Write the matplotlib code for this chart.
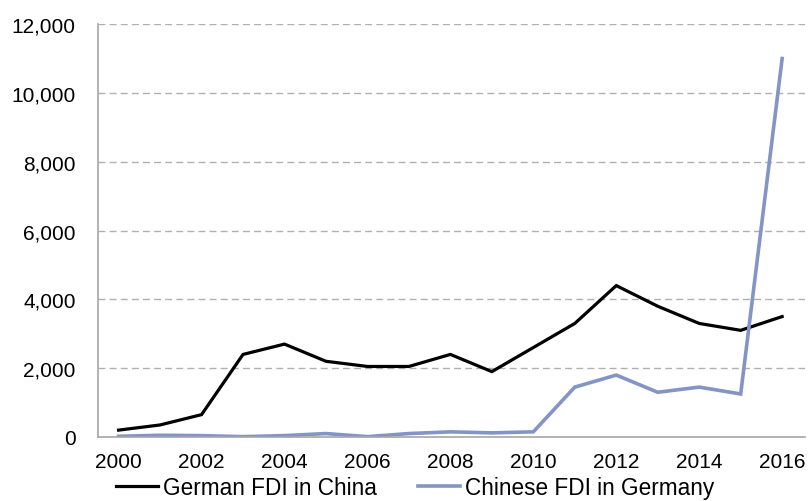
import matplotlib
matplotlib.use("Agg")
import matplotlib.pyplot as plt
from matplotlib.ticker import FuncFormatter

years = list(range(2000, 2017))
german_fdi_in_china = [200, 350, 650, 2400, 2700, 2200, 2050, 2050, 2400, 1900,
                       2600, 3300, 4400, 3800, 3300, 3100, 3500]
chinese_fdi_in_germany = [20, 50, 40, 10, 40, 100, 10, 100, 150, 120,
                          150, 1450, 1800, 1300, 1450, 1250, 11000]
yticks = [0, 2000, 4000, 6000, 8000, 10000, 12000]
xticks = list(range(2000, 2017, 2))

plt.rcParams['font.family'] = ['Liberation Sans', 'DejaVu Sans']

fig = plt.figure(figsize=(8.09, 5.02), dpi=100)
ax = fig.add_axes([0.121, 0.1275, 0.874, 0.8225])

ax.plot(years, german_fdi_in_china, color='black', lw=2.3, label='German FDI in China',
        solid_joinstyle='miter')
ax.plot(years, chinese_fdi_in_germany, color='#8394C6', lw=2.6, label='Chinese FDI in Germany',
        solid_joinstyle='miter')

ax.set_xlim(1999.5, 2016.55)
ax.set_ylim(0, 12000)
ax.set_yticks(yticks)
ax.set_xticks(xticks)
ax.yaxis.set_major_formatter(FuncFormatter(lambda v, p: f"{int(v):,}"))
ax.tick_params(axis='both', length=0, labelsize=15, colors='black')
ax.tick_params(axis='y', pad=16)
ax.tick_params(axis='x', pad=11)

for g in yticks[1:]:
    ax.axhline(g, color='#B0B0B0', lw=1.0, ls=(0, (5, 3)), zorder=0)

for s in ['top', 'right']:
    ax.spines[s].set_visible(False)
for s in ['left', 'bottom']:
    ax.spines[s].set_color('#A6A6A6')
    ax.spines[s].set_linewidth(1.2)

fig.legend(loc='lower center', bbox_to_anchor=(0.513, 0.004), ncol=2, frameon=False,
           fontsize=16.3, handlelength=1.85, handletextpad=0.2, columnspacing=1.85,
           borderpad=0.0, borderaxespad=0.0)

fig.savefig('out.png', dpi=100)
